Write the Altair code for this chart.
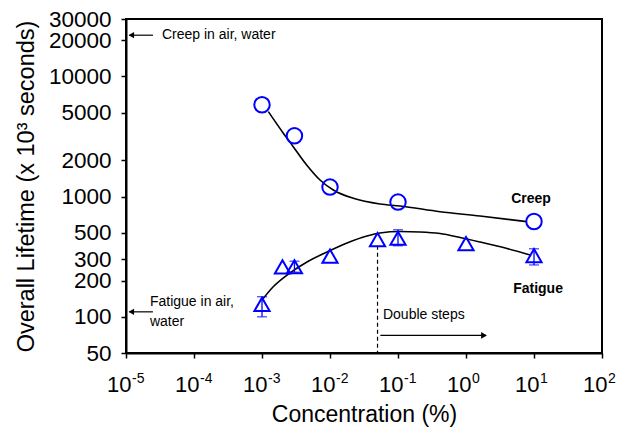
import altair as alt
import pandas as pd

# ---- data ----
creep_x = [0.001, 0.003, 0.01, 0.1, 10]
creep_y = [5800, 3200, 1200, 900, 620]

fat_x = [0.001, 0.002, 0.003, 0.01, 0.05, 0.1, 1, 10]
fat_y = [127, 260, 261, 320, 438, 450, 406, 323]

err_x = [0.001, 0.003, 0.1, 10]
err_lo = [100, 235, 390, 270]
err_hi = [147, 290, 530, 368]

creep_curve_x = [0.00124, 0.00206, 0.00288, 0.00454, 0.00713, 0.0112, 0.022, 0.0543, 0.107, 0.415, 1.61, 7.8]
creep_curve_y = [5087, 3364, 2601, 1833, 1374, 1135, 968, 868, 836, 749, 690, 619]

fat_curve_x = [0.001, 0.00145, 0.00258, 0.00459, 0.00904, 0.0178, 0.035, 0.0543, 0.107, 0.211, 0.415, 0.817, 1.61, 4.01, 8.73]
fat_curve_y = [138, 177, 232, 286, 346, 411, 470, 498, 512, 508, 493, 457, 419, 370, 327]

x_ticks = [1e-5, 1e-4, 1e-3, 1e-2, 1e-1, 1e0, 1e1, 1e2]
x_exps = ["-5", "-4", "-3", "-2", "-1", "0", "1", "2"]
y_ticks = [50, 100, 200, 300, 500, 1000, 2000, 5000, 10000, 20000, 30000]

# annotations (data coordinates)
left_arrow_tail = [2.49e-5, 2.49e-5]
left_arrow_tip = [1.12e-5, 1.12e-5]
left_arrow_y = [22000, 110]
right_arrow_tail = [0.055]
right_arrow_tip = [1.97]
right_arrow_y = [70]
dash_x = [0.05]
dash_top = [390]
dash_bottom = [50]

note_text = ["Creep in air, water", "Fatigue in air,", "water", "Double steps"]
note_x = [3.38e-5, 2.25e-5, 2.25e-5, 0.0601]
note_y = [22000, 134, 91, 104]
bold_text = ["Creep", "Fatigue"]
bold_x = [9.04, 11.46]
bold_y = [950, 170]

BLUE = "#0000FF"
W, H = 476, 334

xs = alt.Scale(type="log", domain=[1e-5, 100], nice=False)
ys = alt.Scale(type="log", domain=[50, 30000], nice=False)

x_axis = alt.Axis(values=x_ticks, labelExpr="'10'", labelAlign="right", labelOffset=5,
                  labelBaseline="top", labelPadding=16, labelFontSize=22, tickSize=5,
                  title="Concentration (%)", titleFontSize=23, titlePadding=8,
                  grid=False, labelOverlap=False)
y_axis = alt.Axis(values=y_ticks, format="d", labelFontSize=22.5, labelPadding=10, tickSize=5,
                  title="Overall Lifetime (x 10³ seconds)", titleFontSize=23.5, titlePadding=10,
                  grid=False, labelOverlap=False)

def X(f):
    return alt.X(f, type="quantitative", scale=xs, axis=x_axis)

def Y(f):
    return alt.Y(f, type="quantitative", scale=ys, axis=y_axis)

creep_curve = alt.Chart(pd.DataFrame({"x": creep_curve_x, "y": creep_curve_y})).mark_line(
    color="black", strokeWidth=1.6, interpolate="monotone").encode(x=X("x"), y=Y("y"))
fat_curve = alt.Chart(pd.DataFrame({"x": fat_curve_x, "y": fat_curve_y})).mark_line(
    color="black", strokeWidth=1.6, interpolate="monotone").encode(x=X("x"), y=Y("y"))

creep_pts = alt.Chart(pd.DataFrame({"x": creep_x, "y": creep_y})).mark_point(
    shape="circle", size=240, filled=False, stroke=BLUE, strokeWidth=2, opacity=1).encode(x=X("x"), y=Y("y"))
fat_pts = alt.Chart(pd.DataFrame({"x": fat_x, "y": fat_y})).mark_point(
    shape="triangle-up", size=230, filled=False, stroke=BLUE, strokeWidth=2, opacity=1).encode(x=X("x"), y=Y("y"))

err_df = pd.DataFrame({"x": err_x, "lo": err_lo, "hi": err_hi})
err_rule = alt.Chart(err_df).mark_rule(color=BLUE, strokeWidth=1.3).encode(x=X("x"), y=Y("lo"), y2="hi")
err_cap_lo = alt.Chart(err_df).mark_tick(color=BLUE, orient="horizontal", size=10, thickness=1.3).encode(x=X("x"), y=Y("lo"))
err_cap_hi = alt.Chart(err_df).mark_tick(color=BLUE, orient="horizontal", size=10, thickness=1.3).encode(x=X("x"), y=Y("hi"))

dash = alt.Chart(pd.DataFrame({"x": dash_x, "t": dash_top, "b": dash_bottom})).mark_rule(
    color="black", strokeWidth=1.2, strokeDash=[4, 3]).encode(x=X("x"), y=Y("t"), y2="b")

la_df = pd.DataFrame({"a": left_arrow_tail, "b": left_arrow_tip, "y": left_arrow_y})
la_rule = alt.Chart(la_df).mark_rule(color="black", strokeWidth=1.2).encode(x=X("a"), x2="b", y=Y("y"))
la_head = alt.Chart(la_df).mark_point(shape="triangle-left", size=40, filled=True, color="black",
                                      opacity=1, xOffset=2).encode(x=X("b"), y=Y("y"))
ra_df = pd.DataFrame({"a": right_arrow_tail, "b": right_arrow_tip, "y": right_arrow_y})
ra_rule = alt.Chart(ra_df).mark_rule(color="black", strokeWidth=1.2).encode(x=X("a"), x2="b", y=Y("y"))
ra_head = alt.Chart(ra_df).mark_point(shape="triangle-right", size=45, filled=True, color="black",
                                      opacity=1, xOffset=-2).encode(x=X("b"), y=Y("y"))

notes = alt.Chart(pd.DataFrame({"x": note_x, "y": note_y, "t": note_text})).mark_text(
    align="left", baseline="middle", fontSize=14, color="black").encode(x=X("x"), y=Y("y"), text="t:N")
bold = alt.Chart(pd.DataFrame({"x": bold_x, "y": bold_y, "t": bold_text})).mark_text(
    align="center", baseline="middle", fontSize=14, fontWeight="bold", color="black").encode(x=X("x"), y=Y("y"), text="t:N")

exps = alt.Chart(pd.DataFrame({"x": x_ticks, "e": x_exps})).mark_text(
    align="left", baseline="top", fontSize=14, color="black", dx=6).encode(
    x=X("x"), y=alt.value(H + 19), text="e:N")

chart = alt.layer(
    creep_curve, fat_curve, dash, err_rule, err_cap_lo, err_cap_hi,
    creep_pts, fat_pts, la_rule, la_head, ra_rule, ra_head, notes, bold, exps
).properties(
    width=W, height=H,
    autosize=alt.AutoSizeParams(type="none"),
    padding={"left": 118, "top": 11, "right": 14, "bottom": 77},
).configure(font="Liberation Sans").configure_axis(
    labelColor="black", titleColor="black", domainColor="black", domainWidth=2,
    tickColor="black", tickWidth=1.5, titleFontWeight="normal", labelFont="Liberation Sans",
    titleFont="Liberation Sans"
).configure_view(stroke="black", strokeWidth=2)

chart.save("out.html", embed_options={"renderer": "svg", "actions": False})
